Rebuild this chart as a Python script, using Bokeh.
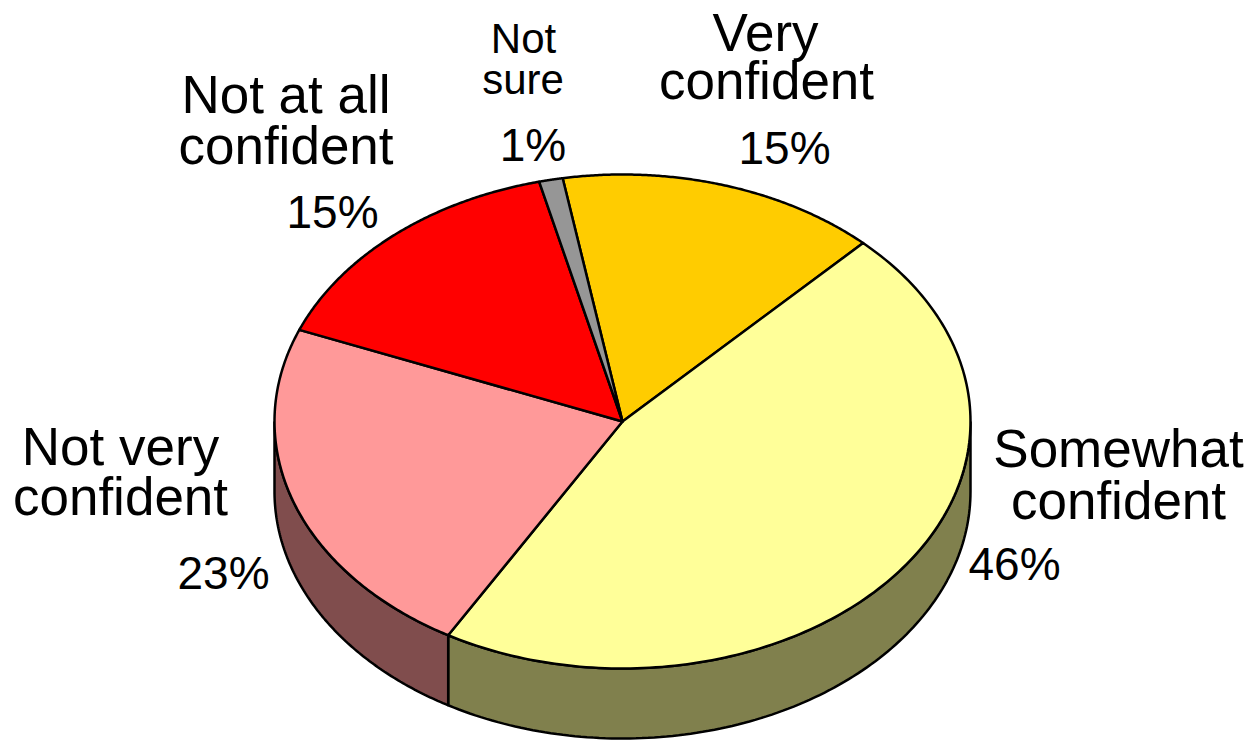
import numpy as np
from bokeh.plotting import figure
from bokeh.models import Range1d
from bokeh.core.properties import value
from bokeh.embed import file_html
from bokeh.resources import INLINE

categories = ["Very confident", "Somewhat confident", "Not very confident", "Not at all confident", "Not sure"]
shares = [14.9, 46.2, 22.7, 15.1, 1.1]
top_colors = ["#FFCC00", "#FFFF99", "#FF9999", "#FF0000", "#969696"]
side_colors = ["#806600", "#80804D", "#804D4D", "#800000", "#4B4B4B"]
percent_labels = ["15%", "46%", "23%", "15%", "1%"]

START_DEG = -9.9
CX, CY, RX, RY, DEPTH = 622.0, 421.0, 348.0, 247.0, 70.0
W, H = 1249, 740

p = figure(width=W, height=H, output_backend="svg", toolbar_location=None,
           x_range=Range1d(0, W), y_range=Range1d(H, 0),
           min_border=0, outline_line_color=None, background_fill_color=None,
           border_fill_color=None)
p.axis.visible = False
p.grid.visible = False


def ell(deg, dy=0.0):
    t = np.radians(deg)
    return CX + RX * np.sin(t), CY - RY * np.cos(t) + dy


edges = START_DEG + np.concatenate([[0], np.cumsum(shares)]) * 3.6

# side wall: only the front half of the pie (90..270 degrees clockwise from top)
for i in range(len(shares)):
    a, b = max(edges[i], 90.0), min(edges[i + 1], 270.0)
    if b <= a:
        continue
    ts = np.linspace(a, b, 120)
    x1, y1 = ell(ts)
    x2, y2 = ell(ts[::-1], DEPTH)
    p.patch(np.concatenate([x1, x2]), np.concatenate([y1, y2]),
            fill_color=side_colors[i], line_color="black", line_width=2.5)

# top face
for i in range(len(shares)):
    ts = np.linspace(edges[i], edges[i + 1], 160)
    x, y = ell(ts)
    p.patch(np.concatenate([[CX], x]), np.concatenate([[CY], y]),
            fill_color=top_colors[i], line_color="black", line_width=2.5, line_join="round")

font = value("Liberation Sans")
# text, x centre, baseline, size (px)
big, small, pct = 53, 42, 46
texts = [
    ("Very", 765, 53, big), ("confident", 766, 101, big), (percent_labels[0], 784, 165, pct),
    ("Somewhat", 1118, 469, big), ("confident", 1118, 521, big), (percent_labels[1], 1014, 581, pct),
    ("Not very", 120, 467, big), ("confident", 120, 517, big), (percent_labels[2], 223, 590, pct),
    ("Not at all", 285.5, 115, big), ("confident", 285.5, 166, big), (percent_labels[3], 332, 229, pct),
    ("Not", 523, 54, small), ("sure", 522.5, 95, small), (percent_labels[4], 532.5, 162, pct),
]
for s, x, y, size in texts:
    p.text([x], [y - 0.39 * size], text=[s], text_font=font, text_font_size=value(f"{size}px"),
           text_align="center", text_baseline="alphabetic", text_color="black")

open("out.html", "w").write(file_html(p, INLINE))
